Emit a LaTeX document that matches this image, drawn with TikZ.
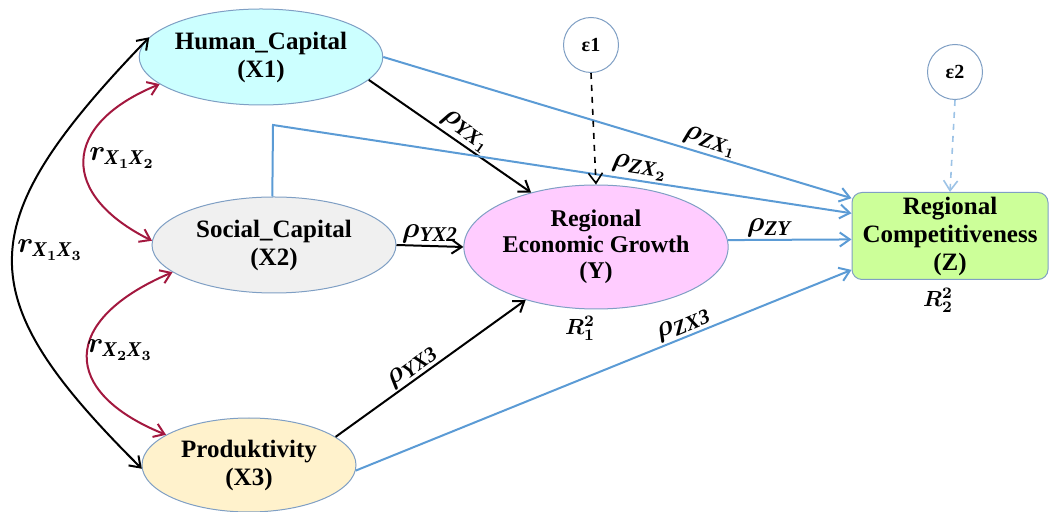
\documentclass[tikz,border=0pt]{standalone}
\usepackage{fontspec}
\setmainfont{Liberation Serif}
\usepackage{amsmath,bm}
\usetikzlibrary{shapes.geometric,arrows.meta,positioning}
\definecolor{rimblue}{HTML}{7F9FC4}
\definecolor{arrowblue}{HTML}{5B9BD5}
\definecolor{dashblue}{HTML}{9DC3E6}
\definecolor{corrred}{HTML}{A3183F}
\definecolor{fillxa}{HTML}{CCFFFF}
\definecolor{fillxb}{HTML}{F0F0F0}
\definecolor{fillxc}{HTML}{FFF2CC}
\definecolor{filly}{HTML}{FFCCFF}
\definecolor{fillz}{HTML}{CCFF99}

\begin{document}
\begin{tikzpicture}[x=0.5pt,y=-0.5pt,
    var/.style={ellipse,draw=rimblue,line width=0.5pt,inner sep=0pt,align=center,
      font=\fontsize{12.5}{14}\selectfont\bfseries},
    err/.style={circle,draw=rimblue,line width=0.5pt,fill=white,minimum size=27.5pt,
      inner sep=0pt,font=\fontsize{10}{12}\selectfont\bfseries},
    blk/.style={line width=1pt,-{Straight Barb[length=5pt,width=7pt]}},
    blu/.style={blk,draw=arrowblue},
    corr/.style={line width=1pt,{Straight Barb[length=5pt,width=7pt]}-{Straight Barb[length=5pt,width=7pt]}},
    lab/.style={font=\fontsize{15}{17}\selectfont,inner sep=1pt},
    rsq/.style={font=\fontsize{11}{13}\selectfont,inner sep=0pt}]
  \useasboundingbox (0,0) rectangle (1049,512);
  \node[var,fill=fillxa,minimum width=109pt,minimum height=48pt] (X1) at (261,57) {Human\_Capital\\(X1)};
  \node[var,fill=fillxb,minimum width=122pt,minimum height=48pt] (X2) at (274,245) {Social\_Capital\\(X2)};
  \node[var,fill=fillxc,minimum width=107pt,minimum height=47pt] (X3) at (249,465) {Produktivity\\(X3)};
  \node[var,fill=filly,minimum width=117pt,minimum height=62pt,
    font=\fontsize{12}{13}\selectfont\bfseries] (Y) at (596,247) {Regional\\Economic Growth\\(Y)};
  \node[var,rectangle,rounded corners=5pt,fill=fillz,minimum width=98pt,minimum height=43.5pt] (Z) at (950,236)
    {Regional\\Competitiveness\\(Z)};
  \node[err] (e1) at (591,45) {ε1};
  \node[err] (e2) at (955,72) {ε2};
  \node[rsq,below=3pt of Y.south,xshift=-8pt] (R1) {$\bm{R_1^2}$};
  \node[rsq,below=4pt of Z.south,xshift=-6pt] (R2) {$\bm{R_2^2}$};
  \coordinate (bend) at (273,125);

  \draw[blk] (X1.348) -- node[lab,sloped,above,pos=0.55] {$\bm{\rho}_{\textbf{\textit{YX}}_{\bm 1}}$} (Y.140);
  \draw[blk] (X2.east) -- node[lab,above,pos=0.5] {$\bm{\rho}_{\textbf{\textit{YX2}}}$} (Y.west);
  \draw[blk] (X3.18) -- node[lab,sloped,above,pos=0.44] {$\bm{\rho}_{\textbf{\textit{YX3}}}$} (Y.217);
  \draw[blu] (X1.east) -- node[lab,sloped,above,pos=0.69] {$\bm{\rho}_{\textbf{\textit{ZX}}_{\bm 1}}$} (Z.159);
  \draw[blu] (X2.92) -- (bend) -- node[lab,sloped,above,pos=0.63] {$\bm{\rho}_{\textbf{\textit{ZX}}_{\bm 2}}$} (Z.167);
  \draw[blu] (Y.3) -- node[lab,above,pos=0.34] {$\bm{\rho}_{\textbf{\textit{ZY}}}$} (Z.182);
  \draw[blu] (X3.357) -- node[lab,sloped,above,pos=0.67] {$\bm{\rho}_{\textbf{\textit{ZX3}}}$} (Z.199);
  \draw[blk,dashed,line width=0.8pt] (e1.south) -- (Y.north);
  \draw[blk,draw=dashblue,dashed,line width=0.8pt] (e2.south) -- (Z.north);

  \draw[corr] (X1.170) .. controls (-32,225) and (-32,296) .. (X3.182);
  \draw[corr,draw=corrred] (X1.195) .. controls (60,125) and (60,195) .. (X2.178);
  \draw[corr,draw=corrred] (X2.195) .. controls (60,320) and (60,392) .. (X3.160);
  \node[lab] (r12) at (122,158) {$\bm{r}_{\textbf{\textit{X}}_{\bm 1}\textbf{\textit{X}}_{\bm 2}}$};
  \node[lab] (r23) at (120,350) {$\bm{r}_{\textbf{\textit{X}}_{\bm 2}\textbf{\textit{X}}_{\bm 3}}$};
  \node[lab] (r13) at (50,250) {$\bm{r}_{\textbf{\textit{X}}_{\bm 1}\textbf{\textit{X}}_{\bm 3}}$};
\end{tikzpicture}
\end{document}
